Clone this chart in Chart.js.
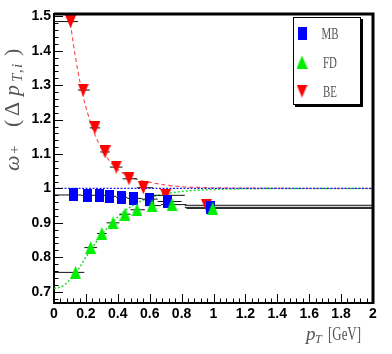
<!DOCTYPE html>
<html><head><meta charset="utf-8">
<script src="https://cdn.jsdelivr.net/npm/chart.js@4"></script>
<style>html,body{margin:0;padding:0;background:#fff}#wrap{width:392px;height:354px;position:relative}canvas{display:block}</style>
</head><body><div id="wrap"><canvas id="c" width="392" height="354"></canvas></div>
<script>
// ---------- data ----------
const seriesNames = ['MB', 'FD', 'BE'];

const mbX  = [0.121, 0.21, 0.283, 0.35, 0.423, 0.50, 0.596, 0.714, 0.98];
const mbY  = [0.981, 0.980, 0.980, 0.977, 0.974, 0.971, 0.969, 0.962, 0.945];
const mbLo = [0.0, 0.17, 0.25, 0.32, 0.39, 0.46, 0.55, 0.65, 0.82];
const mbHi = [0.17, 0.25, 0.32, 0.39, 0.46, 0.55, 0.65, 0.80, 2.0];

const fdX  = [0.135, 0.23, 0.30, 0.37, 0.445, 0.52, 0.615, 0.74, 0.995];
const fdY  = [0.756, 0.828, 0.869, 0.90, 0.925, 0.938, 0.95, 0.953, 0.942];
const fdLo = [0.0, 0.19, 0.27, 0.33, 0.41, 0.48, 0.57, 0.67, 0.83];
const fdHi = [0.19, 0.27, 0.33, 0.41, 0.48, 0.57, 0.67, 0.83, 2.0];

const beX  = [0.104, 0.183, 0.256, 0.32, 0.39, 0.47, 0.56, 0.70, 0.955];
const beY  = [1.485, 1.286, 1.176, 1.106, 1.062, 1.028, 1.002, 0.980, 0.951];
const beLo = [0.0, 0.15, 0.225, 0.29, 0.35, 0.43, 0.52, 0.62, 0.82];
const beHi = [0.15, 0.225, 0.29, 0.35, 0.43, 0.52, 0.62, 0.82, 2.0];

// fitted curves
const mbFitX = [0, 2];
const mbFitY = [1.0, 1.0];
const fdFitX = [0, 0.05, 0.1, 0.15, 0.2, 0.25, 0.3, 0.35, 0.4, 0.45, 0.5, 0.55, 0.6, 0.7, 0.8, 0.9, 1.0, 1.2, 1.5, 2.0];
const fdFitY = [0.71, 0.715, 0.735, 0.763, 0.80, 0.835, 0.866, 0.893, 0.917, 0.937, 0.952, 0.964, 0.973, 0.984, 0.991, 0.995, 0.997, 0.999, 1.0, 1.0];
const beFitX = [0.097, 0.10, 0.12, 0.15, 0.18, 0.21, 0.25, 0.30, 0.35, 0.40, 0.45, 0.50, 0.60, 0.70, 0.80, 0.90, 1.0, 1.2, 1.5, 2.0];
const beFitY = [1.50, 1.49, 1.424, 1.340, 1.273, 1.220, 1.164, 1.114, 1.079, 1.055, 1.040, 1.029, 1.018, 1.010, 1.005, 1.003, 1.002, 1.001, 1.0, 1.0];

// axes
const xTickValues = [0, 0.2, 0.4, 0.6, 0.8, 1.0, 1.2, 1.4, 1.6, 1.8, 2.0];
const xTickLabels = ['0', '0.2', '0.4', '0.6', '0.8', '1', '1.2', '1.4', '1.6', '1.8', '2'];
const yTickValues = [0.7, 0.8, 0.9, 1.0, 1.1, 1.2, 1.3, 1.4, 1.5];
const yTickLabels = ['0.7', '0.8', '0.9', '1', '1.1', '1.2', '1.3', '1.4', '1.5'];
const xRange = [0, 2];
const yRange = [0.667, 1.507];

// ---------- marker images ----------
function markerCanvas(kind, color) {
  const c = document.createElement('canvas');
  const w = kind === 'rect' ? 9 : 11, h = 13;
  c.width = w; c.height = h;
  const g = c.getContext('2d');
  g.fillStyle = color;
  if (kind === 'rect') { g.fillRect(0, 0, w, h); }
  else if (kind === 'up') { g.beginPath(); g.moveTo(w / 2, 0); g.lineTo(w, h); g.lineTo(0, h); g.closePath(); g.fill(); }
  else { g.beginPath(); g.moveTo(0, 0); g.lineTo(w, 0); g.lineTo(w / 2, h); g.closePath(); g.fill(); }
  return c;
}
const mbMarker = markerCanvas('rect', '#0000ff');
const fdMarker = markerCanvas('up', '#00ee00');
const beMarker = markerCanvas('down', '#ff0000');

const pts = (xs, ys) => xs.map((x, i) => ({ x: x, y: ys[i] }));
function errBars(lo, hi, ys) {
  const out = [];
  ys.forEach((y, i) => { out.push({ x: lo[i], y: y }, { x: hi[i], y: y }, { x: hi[i], y: null }); });
  return out;
}

const datasets = [
  { label: 'FD', data: pts(fdX, fdY), showLine: false, pointStyle: fdMarker, order: 1 },
  { label: 'MB', data: pts(mbX, mbY), showLine: false, pointStyle: mbMarker, order: 2 },
  { label: 'BE', data: pts(beX, beY), showLine: false, pointStyle: beMarker, order: 3 },
  { label: 'FD err', data: errBars(fdLo, fdHi, fdY), borderColor: '#111', borderWidth: 1, pointRadius: 0, spanGaps: false, order: 5 },
  { label: 'MB err', data: errBars(mbLo, mbHi, mbY), borderColor: '#111', borderWidth: 1, pointRadius: 0, spanGaps: false, order: 5 },
  { label: 'BE err', data: errBars(beLo, beHi, beY), borderColor: '#111', borderWidth: 1, pointRadius: 0, spanGaps: false, order: 5 },
  { label: 'MB fit', data: pts(mbFitX, mbFitY), borderColor: '#2222ff', borderWidth: 1.3, borderDash: [2, 1.5], pointRadius: 0, order: 6 },
  { label: 'FD fit', data: pts(fdFitX, fdFitY), borderColor: '#22dd22', borderWidth: 1.5, borderDash: [2, 2], pointRadius: 0, cubicInterpolationMode: 'monotone', order: 6 },
  { label: 'BE fit', data: pts(beFitX, beFitY), borderColor: '#ff4444', borderWidth: 1.1, borderDash: [4, 3], pointRadius: 0, cubicInterpolationMode: 'monotone', order: 6 }
];

const tickFont = { family: "'Liberation Sans Narrow', 'Arial Narrow', 'Liberation Sans', sans-serif", size: 14, weight: 'bold' };

// ---------- plugins ----------
const framePlugin = {
  id: 'frame',
  afterDatasetsDraw(chart) {
    const ctx = chart.ctx, a = chart.chartArea;
    const xs = chart.scales.x, ys = chart.scales.y;
    ctx.save();
    ctx.strokeStyle = '#000';
    // inward ticks on x axis
    ctx.lineWidth = 1;
    ctx.beginPath();
    for (let v = 0; v <= 2.0001; v += 0.04) {
      const px = Math.round(xs.getPixelForValue(v)) + 0.5;
      const major = Math.abs(v / 0.2 - Math.round(v / 0.2)) < 1e-6;
      ctx.moveTo(px, a.bottom); ctx.lineTo(px, a.bottom - (major ? 9 : 4.5));
    }
    for (let v = 0.68; v <= 1.5001; v += 0.02) {
      const py = Math.round(ys.getPixelForValue(v)) + 0.5;
      const major = Math.abs(v / 0.1 - Math.round(v / 0.1)) < 1e-6;
      ctx.moveTo(a.left, py); ctx.lineTo(a.left + (major ? 9 : 4.5), py);
    }
    ctx.stroke();
    // thick top / right frame
    ctx.lineWidth = 3;
    ctx.beginPath();
    ctx.moveTo(a.left, a.top); ctx.lineTo(a.right, a.top); ctx.lineTo(a.right, a.bottom + 1);
    ctx.stroke();
    ctx.restore();
  }
};

const legendPlugin = {
  id: 'rootLegend',
  afterDraw(chart) {
    const ctx = chart.ctx;
    const bx = 293, by = 17, bw = 68, bh = 88;
    ctx.save();
    ctx.fillStyle = '#000';
    ctx.fillRect(bx + 2, by + 2, bw, bh);
    ctx.fillStyle = '#fff';
    ctx.fillRect(bx, by, bw, bh);
    ctx.strokeStyle = '#000';
    ctx.lineWidth = 1;
    ctx.strokeRect(bx + 0.5, by + 0.5, bw - 1, bh - 1);
    const markers = [mbMarker, fdMarker, beMarker];
    const rows = [33, 62, 91];
    seriesNames.forEach((name, i) => {
      const m = markers[i];
      ctx.drawImage(m, 302 - m.width / 2, rows[i] - m.height / 2);
      ctx.save();
      ctx.translate(330, rows[i] + 6);
      ctx.scale(0.68, 1);
      ctx.fillStyle = '#555';
      ctx.font = '16px "Liberation Serif", serif';
      ctx.textAlign = 'center';
      ctx.fillText(name, 0, 0);
      ctx.restore();
    });
    ctx.restore();
  }
};

const titlePlugin = {
  id: 'titles',
  afterDraw(chart) {
    const ctx = chart.ctx;
    ctx.save();
    ctx.fillStyle = '#555';
    ctx.textBaseline = 'alphabetic';
    // y title: ω+ (Δp_{T,i}) rotated
    ctx.save();
    ctx.translate(19, 171);
    ctx.rotate(-Math.PI / 2);
    const serif = '"Liberation Serif", serif';
    const pieces = [
      ['ω', 'italic 22px ' + serif, 0, 0],
      ['+', '15px ' + serif, 17, 0],
      ['(', '22px ' + serif, 44, 0],
      ['Δ', '22px ' + serif, 55, 0],
      ['p', 'italic 22px ' + serif, 75, 0],
      ['T', 'italic 15px ' + serif, 89, 3],
      [',', '15px ' + serif, 98, 3],
      ['i', 'italic 15px ' + serif, 103, 3],
      [')', '22px ' + serif, 115, 0]
    ];
    pieces.forEach(p => { ctx.font = p[1]; ctx.fillText(p[0], p[2], p[3]); });
    ctx.restore();
    // x title: p_T [GeV]
    ctx.save();
    ctx.translate(306, 340);
    ctx.font = 'italic 19px ' + serif;
    ctx.fillText('p', 0, 0);
    ctx.font = 'italic 12px ' + serif;
    ctx.fillText('T', 9, 3);
    ctx.translate(22, 0);
    ctx.scale(0.68, 1);
    ctx.font = '19px ' + serif;
    ctx.fillText('[GeV]', 0, 0);
    ctx.restore();
    ctx.restore();
  }
};

new Chart(document.getElementById('c'), {
  type: 'line',
  data: { datasets: datasets },
  options: {
    responsive: false,
    devicePixelRatio: 1,
    animation: false,
    layout: { padding: { left: 0, right: 19, top: 14, bottom: 0 } },
    plugins: { legend: { display: false }, tooltip: { enabled: false } },
    scales: {
      x: {
        type: 'linear', min: xRange[0], max: xRange[1],
        afterBuildTicks: s => { s.ticks = xTickValues.map(v => ({ value: v })); },
        afterFit: s => { s.height = 51; },
        ticks: { font: tickFont, color: '#000', padding: 3, maxRotation: 0, autoSkip: false, callback: (v, i) => xTickLabels[i] },
        grid: { display: false, drawTicks: false },
        border: { display: true, color: '#000', width: 2 }
      },
      y: {
        type: 'linear', min: yRange[0], max: yRange[1],
        afterBuildTicks: s => { s.ticks = yTickValues.map(v => ({ value: v })); },
        afterFit: s => { s.width = 54; },
        ticks: { font: tickFont, color: '#000', padding: 3, autoSkip: false, callback: (v, i) => yTickLabels[i] },
        grid: { display: false, drawTicks: false },
        border: { display: true, color: '#000', width: 2 }
      }
    }
  },
  plugins: [framePlugin, legendPlugin, titlePlugin]
});
</script>
</body></html>
